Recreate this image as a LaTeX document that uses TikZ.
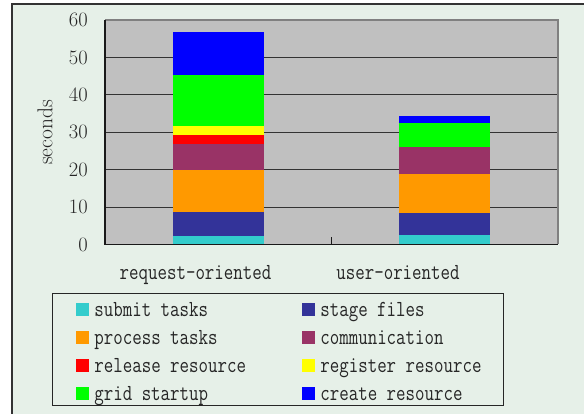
\documentclass[tikz,border=0pt]{standalone}
\usepackage{fontspec}
\newfontfamily\legfont[FakeStretch=0.80]{Latin Modern Mono}
\usetikzlibrary{positioning}

\definecolor{framebg}{RGB}{230,240,232}
\definecolor{plotbg}{RGB}{192,192,192}
\definecolor{submitc}{RGB}{51,204,204}
\definecolor{stagec}{RGB}{51,51,153}
\definecolor{processc}{RGB}{255,153,0}
\definecolor{commc}{RGB}{153,51,102}
\definecolor{releasec}{RGB}{255,0,0}
\definecolor{registerc}{RGB}{255,255,0}
\definecolor{gridc}{RGB}{0,255,0}
\definecolor{createc}{RGB}{0,0,255}

\begin{document}
\begin{tikzpicture}[x=1pt,y=1pt,
ylabel/.style={font=\fontsize{20.5}{20.5}\selectfont, anchor=east, inner sep=0pt, text=black!85},
catlabel/.style={font=\legfont\fontsize{23}{23}\selectfont, anchor=base, inner sep=0pt, text=black!85},
swatch/.style={minimum size=13pt, inner sep=0pt},
entry/.style={font=\legfont\fontsize{23}{23}\selectfont, anchor=base west, inner sep=0pt, text=black!85},
gridline/.style={black!80, line width=0.9pt}]

\useasboundingbox (0,0) rectangle (584,414);
\clip (0,0) rectangle (584,414);

% chart frame
\draw[black!80, line width=1.5pt, fill=framebg] (12,410) rectangle (600,-10);

% plot area, one unit of y = one second
\begin{scope}[shift={(105,169.5)}, y=3.742pt]
\fill[plotbg] (0,0) rectangle (453,60);
\foreach \v in {10,20,...,50}
  \draw[gridline] (0,\v) -- (453,\v);

% request-oriented
\foreach \c/\lo/\hi in {submitc/0/2.3, stagec/2.3/8.7, processc/8.7/19.9, commc/19.9/26.9,
  releasec/26.9/29.3, registerc/29.3/31.7, gridc/31.7/45.3, createc/45.3/56.8}
  \fill[\c] (68,\lo) rectangle (159,\hi);

% user-oriented
\foreach \c/\lo/\hi in {submitc/0/2.5, stagec/2.5/8.5, processc/8.5/18.8, commc/18.8/26.1,
  gridc/26.1/32.5, createc/32.5/34.3}
  \fill[\c] (294,\lo) rectangle (385,\hi);

\draw[black!50, line width=2pt] (0,60) -- (453,60) -- (453,0);
\draw[black!90, line width=1.4pt] (0,60) -- (0,0) -- (453,0);
\draw[black!90, line width=1.2pt] (226.5,0) -- ++(0,2);

\foreach \v in {0,10,...,60}
  \node[ylabel] (y\v) at (-17,\v) {\v};
\end{scope}

\node[rotate=90, font=\fontsize{21.5}{21.5}\selectfont, text=black!85] (unit) at (45,281.5) {seconds};

\node[catlabel] (req) at (195.5,134) {request-oriented};
\node[catlabel] (usr) at (398,134) {user-oriented};

% legend
\draw[black!85, line width=0.8pt] (52,120.7) rectangle (503,9);
\foreach \c/\t [count=\i from 0, evaluate=\i as \col using {int(mod(\i,2))},
  evaluate=\i as \row using {int(\i/2)}] in
  {submitc/submit tasks, stagec/stage files, processc/process tasks, commc/communication,
   releasec/release resource, registerc/register resource, gridc/grid startup, createc/create resource}
{
  \node[swatch, fill=\c] (sw\i) at (82.5+226*\col, 104.5-28*\row) {};
  \node[entry] (lab\i) at ([xshift=5pt, yshift=-7pt]sw\i.east) {\t};
}
\end{tikzpicture}
\end{document}
